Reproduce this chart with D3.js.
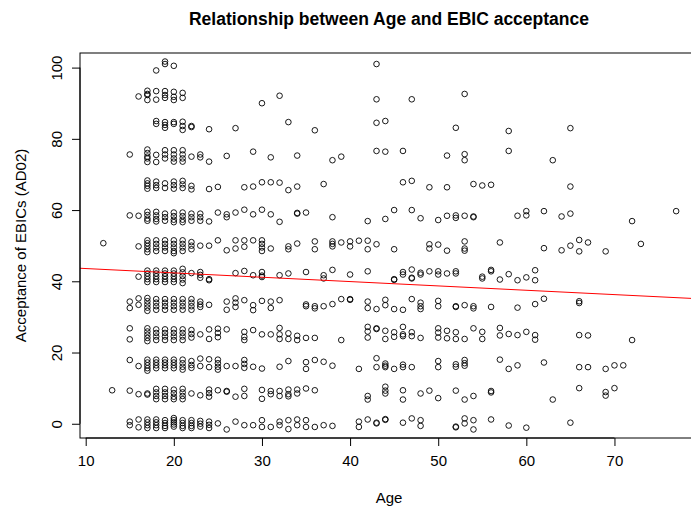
<!DOCTYPE html>
<html>
<head>
<meta charset="utf-8">
<script src="https://cdn.jsdelivr.net/npm/d3@7/dist/d3.min.js"></script>
<style>
  html, body { margin: 0; padding: 0; background: #fff; }
  svg { display: block; }
  text { font-family: "Liberation Sans", Arial, sans-serif; fill: #000; }
</style>
</head>
<body>
<svg id="chart" width="691" height="510"></svg>
<script>
// ---- data: each entry is [age, score, score, ...] ----
const lvl100 = [[18, 99.2], [19, 101.7, 101], [20, 100.5], [43, 101]];
const lvl92 = [[16, 91.9], [17, 93.5, 92.6, 92.3, 90.9], [18, 93.4, 91], [19, 93.4, 92.3, 91.5],
  [20, 93.2, 91.8, 90.9], [21, 92.9, 91.5], [30, 90], [32, 92.1], [43, 91.1], [47, 91.1], [53, 92.6]];
const lvl83 = [[18, 85, 84.2], [19, 84.7, 83.9, 83.1], [20, 84.7, 84.2], [21, 84.8, 83.6, 82.5],
  [22, 83.6, 83.3], [24, 82.7], [27, 83], [33, 84.7], [36, 82.4], [43, 84.5], [44, 85],
  [52, 83.1], [58, 82.2], [65, 83]];
const lvl75 = [[15, 75.6], [17, 77, 76, 75, 74.5, 73.5], [18, 75.5, 73.5], [19, 76.8, 75.6, 74.5],
  [20, 76.8, 75.6, 74.5, 73.6], [21, 76.8, 75.6, 74.5, 73.6], [22, 75], [23, 75.6, 74.8], [24, 73.6],
  [26, 75.2], [29, 76.4], [31, 74.8], [34, 75.3], [38, 74], [39, 75], [43, 76.6], [44, 76.4],
  [46, 76.6], [51, 75.3], [53, 75.7, 74], [58, 76.6], [63, 74]];
const lvl67 = [[17, 68.3, 67.5, 66.8, 66], [18, 68, 67, 66.2], [19, 67.5, 66.2], [20, 68, 67, 66],
  [21, 68.2, 67.2, 66.2], [22, 66.8, 65.8], [24, 65.9], [25, 66.5], [28, 66.4], [29, 66.6],
  [30, 67.8], [31, 67.8], [32, 67.7], [33, 65.6], [34, 66.6], [37, 67.3], [46, 67.8], [47, 68.2],
  [49, 66.4], [51, 66.4], [54, 67.3], [55, 66.9], [56, 67.1], [65, 66.6]];
const lvl58 = [[15, 58.5], [16, 58.4], [17, 59.5, 58.6, 57.6, 57], [18, 59.5, 58.5, 57.5, 56.8],
  [19, 59, 58, 57], [20, 59.3, 58.3, 57.3, 56.6], [21, 59.3, 58.3, 57.3, 56.6], [22, 59, 58, 57],
  [23, 59, 58, 57], [24, 56.8], [25, 59.3], [26, 58.8, 58], [27, 59.3], [28, 60.1], [29, 58.8],
  [30, 60.1], [31, 58.8], [32, 56.7], [34, 59.2, 59], [35, 59.3], [38, 58], [42, 56.9], [44, 57.5],
  [45, 60], [47, 60], [48, 57.7], [50, 57.2], [51, 58.4], [52, 58.5, 57.8], [53, 58.4], [54, 58.2, 58],
  [59, 58.4], [60, 59.7, 58.5], [62, 59.7], [64, 58.2], [65, 59], [72, 56.9], [77, 59.7]];
const lvl50 = [[12, 50.7], [16, 49.8], [17, 51.5, 50.7, 49.9, 49, 48.2], [18, 51.5, 50.5, 49.5, 48.5],
  [19, 51.5, 50.5, 49.5, 48.5], [20, 51.5, 50.5, 49.5, 48.5, 47.9], [21, 51.5, 50.5, 49.5, 48.5],
  [22, 51, 50, 49], [23, 50], [24, 50], [25, 51.5], [26, 48.7], [27, 51.5, 49.2], [28, 51.5, 49.7],
  [29, 51.5], [30, 51.5, 50.5, 49.5, 48.5], [31, 49.2], [33, 49.8, 49], [34, 50.6], [36, 51.2, 49],
  [38, 51.2, 50.5, 49.8], [39, 50.9], [40, 51.2, 49.8], [41, 51.4], [42, 51.4, 49], [43, 50.4],
  [45, 49], [49, 50.4, 49.2], [50, 50.3], [51, 48.6], [53, 51.2, 49.2, 48.6], [57, 50.9], [62, 49.3],
  [64, 48.7], [65, 50], [66, 51.6, 48.4], [67, 50.9], [69, 48.4], [73, 50.5]];
const lvl42 = [[16, 41.3], [17, 43, 42.2, 41.4, 40.6, 39.8], [18, 43, 42.2, 41.4, 40.6, 39.8],
  [19, 43, 42.2, 41.4, 40.6, 39.8], [20, 43, 42.2, 41.4, 40.6, 39.8], [21, 43.5, 42.5, 41.5, 40.5, 39.5],
  [22, 42.3], [23, 42.6, 41.8, 41], [24, 40.6, 40.3], [27, 42.3], [28, 42.9], [29, 41.7],
  [30, 42.6, 41.6, 41.2], [32, 41.7], [33, 42.2], [35, 42.6], [37, 41.7, 40.8], [38, 43.2], [40, 41.9],
  [42, 42.8], [45, 40.6, 40.4], [46, 42.6, 41.9], [47, 43.3, 41, 40.8], [48, 42.4, 41.9], [49, 42.8],
  [50, 42.8, 41.9], [51, 42.2], [52, 42.8, 42.2], [55, 41.3, 40.8], [56, 43.2, 42.8], [57, 40.5],
  [58, 42], [59, 40.3], [60, 41.1], [61, 43.1, 40.3]];
const lvl33 = [[15, 34.3, 32.5], [16, 35.2, 33.4], [17, 35.3, 34.4, 33.5, 32.6, 31.7], [18, 35, 34, 33, 32],
  [19, 35, 34, 33, 32], [20, 35, 34, 33, 32], [21, 35, 34, 33, 32], [22, 35, 34, 33, 32],
  [23, 34.3, 33.5, 32.8], [24, 33.4], [26, 34.3, 32], [27, 35.2, 34, 32.8], [28, 34.7], [29, 33.3, 31.9],
  [30, 34.5], [31, 34.3, 32.5], [32, 34.7], [35, 33.5, 33], [36, 33, 32.4], [37, 33], [38, 33.6],
  [39, 35], [40, 35, 34.8], [42, 34.3, 32.5], [43, 32.2], [44, 34.8, 33.3], [45, 32.2], [46, 32],
  [47, 35], [48, 34, 33, 32.2], [50, 34.5, 33], [52, 33, 32.8], [53, 33.3], [54, 33, 32.4], [56, 32.8],
  [59, 32.6], [61, 33.6], [62, 35.1], [66, 34.4, 33.9]];
const lvl25 = [[15, 26.8, 23.7], [17, 26.8, 25.9, 25, 24.1, 23.2], [18, 26.5, 25.5, 24.5, 23.5],
  [19, 26.5, 25.5, 24.5, 23.5], [20, 26.5, 25.5, 24.5, 23.5], [21, 26.5, 25.5, 24.5, 23.5],
  [22, 26.3, 25.2, 24.2], [23, 25.1], [24, 26.5, 23.8], [25, 26.7, 25.5, 24.3], [26, 26.5],
  [28, 25.8, 24.4, 23.5], [29, 26.3], [30, 25.1], [31, 25.1], [32, 26.9, 25.1, 23.8], [33, 25.4, 23.8],
  [34, 24.7, 23.5], [35, 24.1], [36, 24.1], [39, 23.5], [42, 27.2, 25.9, 24.2], [43, 26.8, 26.6],
  [44, 26.1, 23.8], [45, 25.7, 24.4], [46, 27.2, 25.1, 24.6], [47, 25.7, 24.6], [48, 24.1],
  [50, 26.8, 25.6, 24.2], [51, 26.1, 24], [52, 25.7, 23.8], [53, 23.8], [54, 26.8], [55, 25.8, 23.8],
  [57, 26.9, 24.8], [58, 25.2], [59, 24.9], [60, 25.8], [61, 24.9, 23.6], [66, 24.9], [67, 24.8], [72, 23.5]];
const lvl17 = [[15, 17.9], [16, 16.2], [17, 18, 17.2, 16.4, 15.6, 14.9], [18, 18, 17.2, 16.4, 15.6],
  [19, 18, 17.2, 16.4, 15.6], [20, 18, 17.2, 16.4, 15.6], [21, 18, 17, 16, 15.2], [22, 17.6, 16.5, 15.7],
  [23, 18.3, 16.2], [24, 18.1, 15.9], [25, 18, 17, 16, 15.2], [26, 16.2], [27, 16.2], [28, 17.9, 16.8, 15.7],
  [29, 16], [30, 15.5], [32, 16], [33, 17.6], [35, 17.3, 15.4], [36, 17.9], [37, 17.4], [38, 16.3],
  [41, 15.4], [43, 18.4, 15.9], [44, 16.9, 16.3, 15.9], [45, 15.4], [46, 16.6, 15.9], [47, 15.9],
  [50, 17.6, 15.9], [52, 16.7, 16], [53, 17.9, 17, 16.3], [57, 18], [58, 15.4], [59, 16.4], [62, 17.2],
  [66, 15.9], [67, 15.9], [69, 15.4], [70, 16.4], [71, 16.4]];
const lvl8 = [[13, 9.4], [15, 9.3], [16, 8.3], [17, 8.5, 8.2], [18, 9.8, 8.8, 7.8, 6.9], [19, 9.8, 8.8, 7.8, 6.9],
  [20, 9.6, 8.6, 7.6, 6.9], [21, 9.8, 8.8, 7.8, 6.9], [22, 8.5], [23, 8], [24, 9.6, 8.6, 7.6], [25, 9.4],
  [26, 9.2, 9], [27, 7.6], [28, 9.8, 7.8], [30, 9.5, 7], [31, 9.2, 8.3], [32, 9.2, 7.8], [33, 9.6, 8.3, 7.7],
  [34, 9.6, 8.5], [35, 9.9], [36, 9.4], [42, 7.8, 6.8], [44, 10.4, 9.3, 8.5], [46, 9.4, 6.8], [48, 8.5],
  [49, 9.3], [50, 7.2], [52, 9.3], [53, 6.8], [54, 7.8], [56, 9.2, 8.8], [63, 6.8], [66, 10], [69, 8.9, 7.9], [70, 10]];
const lvl0 = [[15, 0.6, -0.4], [16, 1.2, -1], [17, 1.2, 0.4, -0.4, -1.2], [18, 1.2, 0.4, -0.4, -1.2],
  [19, 1, 0.2, -0.6, -1.2], [20, 1.6, 1, 0.4, -0.2, -0.8], [21, 1, 0.2, -0.6, -1.2], [22, 1, 0.2, -0.6, -1.2],
  [23, 0.8, 0, -0.8], [24, 0.6, -0.3, -1.2], [25, 0.1], [26, -1.6], [27, 0.6], [28, -0.4], [29, -0.4],
  [30, 1, -0.9], [31, -0.9], [32, 0.6, -0.4], [33, 1, -1.5], [34, 1.2, -0.4], [35, 1, -0.9], [36, -0.9],
  [37, -0.4], [38, -0.6], [41, 0.6, -0.9], [42, 1.2], [43, 0.3, 0.1], [44, 1.3, 1.1], [46, 0.3], [47, 1.5],
  [48, 1, -0.6], [52, -0.8, -1], [53, 1.5, 0.1], [54, 1, -1.6], [56, 1.2], [58, -0.5], [60, -1.1], [65, 0.3]];

const xTicks = [10, 20, 30, 40, 50, 60, 70];
const yTicks = [0, 20, 40, 60, 80, 100];
const fitIntercept = 44.8;
const fitSlope = -0.122;

// ---- layout ----
const svg = d3.select("#chart");
const plot = { left: 80, right: 698, top: 53, bottom: 438 };
const x = d3.scaleLinear().domain([9.353, 79.48]).range([plot.left, plot.right]);
const y = d3.scaleLinear().domain([-4.0, 104.1]).range([plot.bottom, plot.top]);

const levels = [lvl0, lvl8, lvl17, lvl25, lvl33, lvl42, lvl50, lvl58, lvl67, lvl75, lvl83, lvl92, lvl100];
const points = levels.flatMap(l => l.flatMap(([age, ...s]) => s.map(v => ({ age, v }))));

svg.append("defs").append("clipPath").attr("id", "clip")
  .append("rect").attr("x", plot.left).attr("y", plot.top)
  .attr("width", plot.right - plot.left).attr("height", plot.bottom - plot.top);

// points
svg.append("g").selectAll("circle").data(points).join("circle")
  .attr("cx", d => x(d.age)).attr("cy", d => y(d.v)).attr("r", 2.8)
  .attr("fill", "none").attr("stroke", "#000").attr("stroke-width", 0.9);

// regression line
const xd = x.domain();
svg.append("line")
  .attr("clip-path", "url(#clip)")
  .attr("x1", x(xd[0])).attr("y1", y(fitIntercept + fitSlope * xd[0]))
  .attr("x2", x(xd[1])).attr("y2", y(fitIntercept + fitSlope * xd[1]))
  .attr("stroke", "#ff0000").attr("stroke-width", 1);

// box
svg.append("rect").attr("x", plot.left).attr("y", plot.top)
  .attr("width", plot.right - plot.left).attr("height", plot.bottom - plot.top)
  .attr("fill", "none").attr("stroke", "#000").attr("stroke-width", 1);

// axes
const xAxis = d3.axisBottom(x).tickValues(xTicks).tickSize(8).tickPadding(6).tickFormat(d3.format("d"));
const gx = svg.append("g").attr("transform", `translate(0,${plot.bottom})`).call(xAxis);
gx.select(".domain").attr("d", `M${x(xTicks[0])},0H${x(xTicks[xTicks.length - 1])}`);
gx.selectAll("text").attr("font-size", 15).attr("font-family", "Liberation Sans, Arial, sans-serif").attr("dy", "0.95em");

const yAxis = d3.axisLeft(y).tickValues(yTicks).tickSize(8).tickFormat(d3.format("d"));
const gy = svg.append("g").attr("transform", `translate(${plot.left},0)`).call(yAxis);
gy.select(".domain").attr("d", `M0,${y(yTicks[0])}V${y(yTicks[yTicks.length - 1])}`);
gy.selectAll("text")
  .attr("font-size", 15).attr("font-family", "Liberation Sans, Arial, sans-serif")
  .attr("x", null).attr("dy", null)
  .attr("text-anchor", "middle")
  .attr("transform", "translate(-18,0) rotate(-90)");

// titles
svg.append("text").attr("x", (plot.left + plot.right) / 2).attr("y", 25)
  .attr("text-anchor", "middle").attr("font-size", 17.5).attr("font-weight", "bold")
  .text("Relationship between Age and EBIC acceptance");
svg.append("text").attr("x", (plot.left + plot.right) / 2).attr("y", 503)
  .attr("text-anchor", "middle").attr("font-size", 15).text("Age");
svg.append("text").attr("transform", `translate(26,${(plot.top + plot.bottom) / 2}) rotate(-90)`)
  .attr("text-anchor", "middle").attr("font-size", 15).text("Acceptance of EBICs (AD02)");
</script>
</body>
</html>
